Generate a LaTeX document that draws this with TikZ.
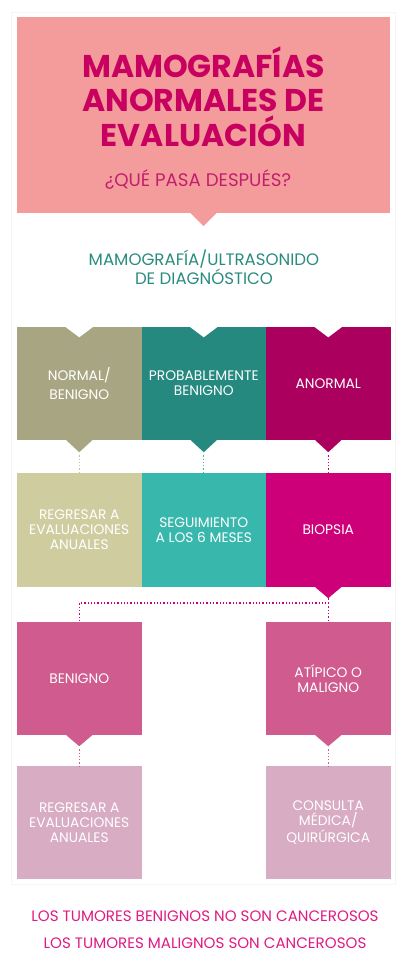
\documentclass[tikz,border=0pt]{standalone}
\usepackage{fontspec}
\setmainfont{Poppins}
\definecolor{hdr}{HTML}{F49C9B}
\definecolor{ttl}{HTML}{C8005F}
\definecolor{sub}{HTML}{C21E6E}
\definecolor{tealtxt}{HTML}{2A8C80}
\definecolor{ca}{HTML}{A8A682}
\definecolor{cb}{HTML}{25897F}
\definecolor{cc}{HTML}{AC005F}
\definecolor{da}{HTML}{CFCDA0}
\definecolor{db}{HTML}{38B8AD}
\definecolor{dc}{HTML}{CE0079}
\definecolor{ea}{HTML}{CF5B8F}
\definecolor{fa}{HTML}{D8ACC2}
\definecolor{bot}{HTML}{E01B84}
\definecolor{dotA}{HTML}{C4C394}
\begin{document}
\begin{tikzpicture}[x=1pt,y=-1pt,
  stepbox/.style={minimum width=124.5pt,minimum height=113pt,inner sep=0pt,text=white,align=center,
     font=\fontsize{13.8}{15}\selectfont},
  dotline/.style={line width=1.3pt,dash pattern=on 1.3pt off 2pt},
]
\useasboundingbox[fill=white] (0,0) rectangle (410,972);
\draw[black!4,line width=1pt] (11.5,12.5) rectangle (395,884);
% header
\node[fill=hdr,minimum width=373pt,minimum height=196pt,inner sep=0pt] (hdr) at (203.5,115) {};
\fill[hdr] ([xshift=-13pt]hdr.south) -- ([yshift=-13pt]hdr.south) -- ([xshift=13pt]hdr.south) -- cycle;
\node[text=ttl,align=center,font=\fontsize{31.5}{34.5}\selectfont\bfseries] (title) at (203.5,96.5)
  {MAMOGRAFÍAS\\ANORMALES DE\\EVALUACIÓN};
\node[text=sub,font=\fontsize{18.2}{20}\selectfont,anchor=base] (subt) at (198,186) {¿QUÉ PASA DESPUÉS?};
% subtitle teal
\node[text=tealtxt,align=center,font=\fontsize{16.6}{18.5}\selectfont,anchor=base] (diag) at (204,284)
  {MAMOGRAFÍA/ULTRASONIDO\\DE DIAGNÓSTICO};
% row 1
\node[stepbox,fill=ca] (a1) at (79.25,383.5) {NORMAL/\\[4pt]BENIGNO};
\node[stepbox,fill=cb] (b1) at (203.75,383.5) {PROBABLEMENTE\\BENIGNO};
\node[stepbox,fill=cc] (c1) at (328.25,383.5) {ANORMAL};
\foreach \n/\c in {a1/ca,b1/cb,c1/cc}{
  \fill[white] ([xshift=-14pt]\n.north) -- ([yshift=-10.5pt]\n.north) -- ([xshift=14pt]\n.north) -- cycle;
  \fill[\c] ([xshift=-13pt]\n.south) -- ([yshift=-12pt]\n.south) -- ([xshift=13pt]\n.south) -- cycle;
  \coordinate (\n tip) at ([yshift=-12pt]\n.south);
}
% row 2
\node[stepbox,fill=da,minimum height=114pt] (a2) at (79.25,530) {REGRESAR A\\EVALUACIONES\\ANUALES};
\node[stepbox,fill=db,minimum height=114pt] (b2) at (203.75,530) {SEGUIMIENTO\\A LOS 6 MESES};
\node[stepbox,fill=dc,minimum height=114pt] (c2) at (328.25,530) {BIOPSIA};
\fill[dc] ([xshift=-13pt]c2.south) -- ([yshift=-11pt]c2.south) -- ([xshift=13pt]c2.south) -- cycle;
\coordinate (c2tip) at ([yshift=-11pt]c2.south);
% row 3
\node[stepbox,fill=ea] (a3) at (79.25,678.5) {BENIGNO};
\node[stepbox,fill=ea] (c3) at (328.25,678.5) {ATÍPICO O\\MALIGNO};
\foreach \n in {a3,c3}{
  \fill[ea] ([xshift=-13pt]\n.south) -- ([yshift=-11pt]\n.south) -- ([xshift=13pt]\n.south) -- cycle;
  \coordinate (\n tip) at ([yshift=-11pt]\n.south);
}
% row 4
\node[stepbox,fill=fa] (a4) at (79.25,822.5) {REGRESAR A\\EVALUACIONES\\ANUALES};
\node[stepbox,fill=fa] (c4) at (328.25,822.5) {CONSULTA\\MÉDICA/\\QUIRÚRGICA};
% connectors
\draw[dotline,dotA,shorten <=3pt] (a1tip) -- (a2.north);
\draw[dotline,db,shorten <=3pt] (b1tip) -- (b2.north);
\draw[dotline,dc,shorten <=3pt] (c1tip) -- (c2.north);
\coordinate (j) at (328.25,603);
\draw[dotline,dc] (c2tip) -- (j) -| (a3.north);
\draw[dotline,dc] (j) -- (c3.north);
\draw[dotline,ea,shorten <=3pt] (a3tip) -- (a4.north);
\draw[dotline,ea,shorten <=3pt] (c3tip) -- (c4.north);
% bottom notes
\node[text=bot,font=\fontsize{15.1}{17}\selectfont,anchor=base] (n1) at (205,921) {LOS TUMORES BENIGNOS NO SON CANCEROSOS};
\node[text=bot,font=\fontsize{15.1}{17}\selectfont,anchor=base] (n2) at (205,948) {LOS TUMORES MALIGNOS SON CANCEROSOS};
\end{tikzpicture}
\end{document}
